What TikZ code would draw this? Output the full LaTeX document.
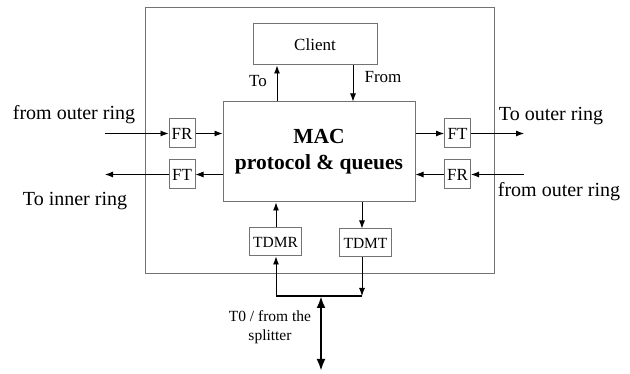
\documentclass[tikz,border=0pt]{standalone}
\usepackage{fontspec}
\setmainfont{Liberation Serif}
\usetikzlibrary{arrows.meta}

\begin{document}
\begin{tikzpicture}[x = 1pt, y = -1pt,
                      box/.style = {draw = black!55, line width = 1pt, inner sep = 0pt},
                      smallbox/.style = {box, minimum width = 26, minimum height = 29, font = \fontsize{17}{20}\selectfont},
                      tdmbox/.style = {box, minimum width = 52, minimum height = 28, font = \fontsize{15.5}{18}\selectfont},
                      ringtext/.style = {inner sep = 0pt, font = \fontsize{20}{24}\selectfont},
                      arr/.style = {-{Latex[length = 8pt, width = 6pt]}, line width = 0.9pt},
                      bus/.style = {line width = 2pt},
                      feed/.style = {{Latex[length = 12pt, width = 9pt]}-{Latex[length = 12pt, width = 9pt]}, line width = 2.4pt}]
    \useasboundingbox (0, 0) rectangle (630, 374);
    \node [draw = black!55, line width = 1pt, minimum width = 349, minimum height = 266] (frame) at (319.5, 141){};
    \node [box, minimum width = 124, minimum height = 41, font = \fontsize{17}{20}\selectfont] (client) at (315, 44.5){Client};
    \node [box, minimum width = 192, minimum height = 100, align = center,
           font = \fontsize{21.5}{26}\selectfont\bfseries] (mac) at (319, 152){MAC\\protocol \& queues};
    \node [smallbox] (frl) at (182, 133.5){FR};
    \node [smallbox] (ftl) at (182, 174.5){FT};
    \node [smallbox] (ftr) at (457.5, 133.5){FT};
    \node [smallbox] (frr) at (457.5, 174.5){FR};
    \node [tdmbox] (tdmr) at (275.5, 242){TDMR};
    \node [tdmbox] (tdmt) at (365.5, 243){TDMT};

    \coordinate (inl) at (105, 133.5);
    \coordinate (outl) at (105, 174.5);
    \coordinate (outr) at (524, 133.5);
    \coordinate (inr) at (524, 174.5);
    \coordinate (tox) at (277, 0);
    \coordinate (fromx) at (353, 0);
    \coordinate (bl) at (276, 296);
    \coordinate (br) at (362, 296);
    \coordinate (st) at (321, 296);
    \coordinate (sb) at (321, 371);

    \draw [arr] (inl) -- (frl);
    \draw [arr] (frl) -- (frl -| mac.west);
    \draw [arr] (ftl -| mac.west) -- (ftl);
    \draw [arr] (ftl) -- (outl);
    \draw [arr] (ftr -| mac.east) -- (ftr);
    \draw [arr] (ftr) -- (outr);
    \draw [arr] (inr) -- (frr);
    \draw [arr] (frr) -- (frr -| mac.east);
    \draw [arr] (tox |- mac.north) -- (tox |- client.south);
    \draw [arr] (fromx |- client.south) -- (fromx |- mac.north);
    \draw [arr] (bl |- tdmr.north) -- (bl |- mac.south);
    \draw [arr] (bl) -- (bl |- tdmr.south);
    \draw [arr] (br |- mac.south) -- (br |- tdmt.north);
    \draw [arr] (br |- tdmt.south) -- (br);
    \draw [bus] (bl) -- (br);
    \draw [feed] (st) -- (sb);

    \node [ringtext] (lbl1) at (74, 115){from outer ring};
    \node [ringtext] (lbl2) at (75, 201){To inner ring};
    \node [ringtext] (lbl3) at (551, 116){To outer ring};
    \node [ringtext] (lbl4) at (559, 192){from outer ring};
    \node [font = \fontsize{17}{20}\selectfont] (to) at (258, 81){To};
    \node [font = \fontsize{17}{20}\selectfont] (from) at (383, 77){From};
    \node [align = center, font = \fontsize{15.5}{19}\selectfont] (split) at (270, 327){T0 / from the\\splitter};
    \end{tikzpicture}
\end{document}
